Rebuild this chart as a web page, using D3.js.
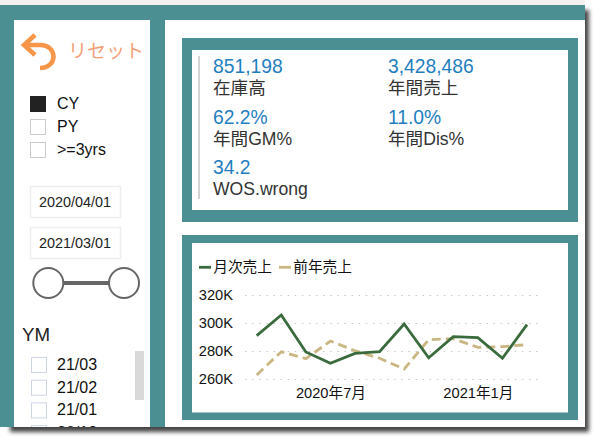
<!DOCTYPE html>
<html>
<head>
<meta charset="utf-8">
<title>売上ダッシュボード</title>
<script src="https://d3js.org/d3.v7.min.js"></script>
<style>
    html, body { margin: 0; padding: 0; background: #fff; overflow: hidden; }
    text { font-family: "Liberation Sans", "Noto Sans CJK JP", sans-serif; }
</style>
</head>
<body>
<div id="chart"></div>
<script>
// chart data
const months = ["2020-04","2020-05","2020-06","2020-07","2020-08","2020-09","2020-10","2020-11","2020-12","2021-01","2021-02","2021-03"];
const salesCY = [291, 305.7, 279.3, 271.2, 278.3, 279.5, 299.3, 275.2, 290.2, 289.5, 274.8, 298.8];
const salesPY = [262.9, 279.5, 274.5, 287.1, 280.2, 274.8, 267.1, 288.1, 288.8, 282.6, 283.1, 284.5];
const yTicks = [260, 280, 300, 320];
const xTicks = ["2020-07", "2021-01"];
const xTickLabels = ["2020年7月", "2021年1月"];
const seriesNames = ["月次売上", "前年売上"];

// KPI cards and slicer content
const kpiValues = ["851,198", "3,428,486", "62.2%", "11.0%", "34.2"];
const kpiLabels = ["在庫高", "年間売上", "年間GM%", "年間Dis%", "WOS.wrong"];
const yearOptions = ["CY", "PY", ">=3yrs"];
const dateRange = ["2020/04/01", "2021/03/01"];
const ymOptions = ["21/03", "21/02", "21/01", "20/12"];

const teal = "#4b8f93";
const svg = d3.select("#chart").append("svg")
    .attr("width", 600)
    .attr("height", 442)
    .style("display", "block");

const defs = svg.append("defs");
const blur = defs.append("filter").attr("id", "shadow")
    .attr("x", "-5%").attr("y", "-5%").attr("width", "110%").attr("height", "110%");
blur.append("feGaussianBlur").attr("stdDeviation", 2);
defs.append("clipPath").attr("id", "pageClip")
    .append("rect").attr("x", 0).attr("y", 0).attr("width", 585).attr("height", 427);

// window frame
svg.append("rect").attr("x", 10).attr("y", 10).attr("width", 579).attr("height", 422)
    .attr("fill", "#444").attr("filter", "url(#shadow)");
svg.append("rect").attr("x", 0).attr("y", 0).attr("width", 585).attr("height", 5).attr("fill", "#f3f2f1");
svg.append("rect").attr("x", 0).attr("y", 5).attr("width", 585).attr("height", 422).attr("fill", teal);
svg.append("rect").attr("x", 14).attr("y", 20).attr("width", 136).attr("height", 407).attr("fill", "#fff");
svg.append("rect").attr("x", 165).attr("y", 20).attr("width", 420).attr("height", 407).attr("fill", "#fff");

// slicer panel
const side = svg.append("g").attr("clip-path", "url(#pageClip)");
side.append("path")
    .attr("d", "M35,35 L24,45 L35,55 M24,45 L40,45 C58,45 58,68 40,68")
    .attr("fill", "none").attr("stroke", "#f79548").attr("stroke-width", 4.5);
side.append("text").attr("x", 68).attr("y", 58).text("リセット")
    .attr("font-size", 19).attr("fill", "#f4a17a");

yearOptions.forEach((d, i) => {
    const y = 96 + i * 23;
    side.append("rect").attr("x", 30.5).attr("y", y + 0.5).attr("width", 15).attr("height", 15)
        .attr("fill", i === 0 ? "#222" : "#fff").attr("stroke", i === 0 ? "#222" : "#ccc");
    side.append("text").attr("x", 57).attr("y", y + 13).text(d).attr("font-size", 16).attr("fill", "#111");
});

dateRange.forEach((d, i) => {
    const y = 186 + i * 41;
    side.append("rect").attr("x", 30.5).attr("y", y + 0.5).attr("width", 90).attr("height", 31)
        .attr("fill", "#fff").attr("stroke", "#eee").attr("stroke-width", 1.5);
    side.append("text").attr("x", 39).attr("y", y + 21).text(d).attr("font-size", 14.4).attr("fill", "#222");
});
side.append("line").attr("x1", 62).attr("x2", 110).attr("y1", 283).attr("y2", 283)
    .attr("stroke", "#666").attr("stroke-width", 4);
[48.3, 124].forEach(cx => {
    side.append("circle").attr("cx", cx).attr("cy", 283).attr("r", 15)
        .attr("fill", "#fff").attr("stroke", "#666").attr("stroke-width", 2);
});

side.append("text").attr("x", 22).attr("y", 341).text("YM").attr("font-size", 18.7).attr("fill", "#222");
ymOptions.forEach((d, i) => {
    const y = 357 + i * 22.7;
    side.append("rect").attr("x", 31.5).attr("y", y + 0.5).attr("width", 15).attr("height", 15)
        .attr("fill", "#fff").attr("stroke", "#cdd5e4");
    side.append("text").attr("x", 57).attr("y", y + 13).text(d).attr("font-size", 16).attr("fill", "#111");
});
side.append("rect").attr("x", 135).attr("y", 351).attr("width", 9).attr("height", 49).attr("fill", "#d9d9d9");

// KPI card
svg.append("rect").attr("x", 182).attr("y", 38).attr("width", 396).attr("height", 184).attr("fill", teal);
svg.append("rect").attr("x", 192).attr("y", 50).attr("width", 376).attr("height", 160).attr("fill", "#fff");
svg.append("line").attr("x1", 199).attr("x2", 199).attr("y1", 56).attr("y2", 199)
    .attr("stroke", "#c4c4c4").attr("stroke-width", 1.5);
kpiValues.forEach((d, i) => {
    const x = i % 2 === 0 ? 213 : 388;
    const y = 73 + Math.floor(i / 2) * 50.7;
    svg.append("text").attr("x", x).attr("y", y).text(d).attr("font-size", 19.3).attr("fill", "#1f7ebf");
    svg.append("text").attr("x", x).attr("y", y + 21).text(kpiLabels[i]).attr("font-size", 17.6).attr("fill", "#333");
});

// line chart card
svg.append("rect").attr("x", 182).attr("y", 235).attr("width", 396).attr("height", 185).attr("fill", teal);
svg.append("rect").attr("x", 192).attr("y", 243).attr("width", 376).attr("height", 169.5).attr("fill", "#fff");

const x = d3.scalePoint().domain(months).range([256.7, 527]);
const y = d3.scaleLinear().domain([260, 320]).range([379, 295]);

const yAxis = svg.append("g").attr("transform", "translate(245,0)")
    .call(d3.axisLeft(y).tickValues(yTicks).tickSize(-295).tickPadding(12).tickFormat(d => d + "K"));
yAxis.select(".domain").remove();
yAxis.selectAll("line").attr("stroke", "#c8c8c8").attr("stroke-width", 1.2).attr("stroke-dasharray", "1.5 5.6");
yAxis.selectAll("text").attr("font-size", 14.67).attr("fill", "#111");

const xAxis = svg.append("g").attr("transform", "translate(0,385)")
    .call(d3.axisBottom(x).tickValues(xTicks).tickSize(0).tickPadding(2.5)
        .tickFormat((d, i) => xTickLabels[i]));
xAxis.select(".domain").remove();
xAxis.selectAll("text").attr("font-size", 14.67).attr("fill", "#111");

const line = d3.line().x((d, i) => x(months[i])).y(d => y(d));
svg.append("path").datum(salesPY).attr("d", line).attr("fill", "none")
    .attr("stroke", "#c9b683").attr("stroke-width", 2.8).attr("stroke-dasharray", "9 5");
svg.append("path").datum(salesCY).attr("d", line).attr("fill", "none")
    .attr("stroke", "#3a6b3c").attr("stroke-width", 2.8);

// legend
const legendColors = ["#3a6b3c", "#c9b683"];
const legendX = [199, 279];
seriesNames.forEach((d, i) => {
    svg.append("line").attr("x1", legendX[i]).attr("x2", legendX[i] + 12).attr("y1", 267.3).attr("y2", 267.3)
        .attr("stroke", legendColors[i]).attr("stroke-width", 2.8);
    svg.append("text").attr("x", legendX[i] + 14.3).attr("y", 271.5).text(d).attr("font-size", 14.67).attr("fill", "#111");
});
</script>
</body>
</html>
